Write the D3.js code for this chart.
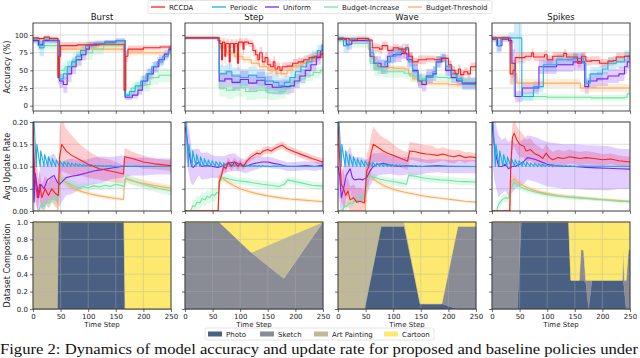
<!DOCTYPE html>
<html>
<head>
<meta charset="utf-8">
<script src="https://cdn.jsdelivr.net/npm/d3@7"></script>
<style>
  body { margin: 0; background: #fff; }
  svg { display: block; font-family: "DejaVu Sans", sans-serif; }
</style>
</head>
<body>
<svg id="chart" width="640" height="358"></svg>
<script>
const scenarios = ['Burst', 'Step', 'Wave', 'Spikes'];
const policies = ['RCCDA', 'Periodic', 'Uniform', 'Budget-Increase', 'Budget-Threshold'];
const policyColors = ['#ff1f1f', '#1ab0e6', '#7d1fff', '#6ee6a0', '#ffab5e'];
const domains = ['Photo', 'Sketch', 'Art Painting', 'Cartoon'];
const domainColors = ['#4a6083', '#8a8c95', '#bfb99a', '#fde96f'];
const xTicks = [0, 50, 100, 150, 200, 250];
const accTicks = [0, 25, 50, 75, 100];
const rateTicks = [0, 0.05, 0.10, 0.15, 0.20];
const compTicks = [0, 0.2, 0.4, 0.6, 0.8, 1.0];

// accuracy (%) : [time step, mean, spread], one list per policy in legend order
const accBurst = [
  [[0,96,2],[10,95,2],[20,97,2],[30,95,3],[45,40,8],[47,70,8],[50,85,5],[80,86,4],[120,87,3],[165,22,10],[168,70,8],[172,80,5],[200,82,3],[230,83,3],[250,84,3]],
  [[0,94,3],[8,95,3],[12,82,12],[20,94,4],[30,93,4],[47,38,8],[55,45,8],[62,55,8],[70,62,7],[78,70,7],[86,78,6],[95,85,5],[110,88,4],[130,90,3],[150,92,3],[166,15,4],[175,20,5],[185,28,6],[195,35,7],[205,45,7],[215,55,7],[225,62,7],[235,70,6],[245,78,5],[250,80,5]],
  [[0,92,4],[10,86,6],[18,92,4],[30,92,4],[48,35,10],[55,30,12],[62,45,12],[70,55,10],[78,65,8],[88,72,8],[96,80,6],[102,86,5],[115,88,4],[130,90,3],[150,92,3],[167,12,4],[180,15,5],[190,22,7],[198,35,8],[208,45,8],[218,55,8],[228,65,7],[238,73,6],[246,80,5],[250,80,5]],
  [[0,92,4],[8,85,6],[30,85,6],[47,50,10],[58,55,10],[72,65,10],[88,75,10],[108,80,8],[128,85,6],[166,15,6],[178,25,8],[195,30,10],[212,40,10],[228,43,10],[250,43,10]],
  [[0,94,3],[45,50,10],[48,80,4],[165,22,8],[168,75,4],[250,75,4]]
];
const accStep = [
  [[0,96,2],[60,92,5],[63,88,8],[66,65,10],[68,90,6],[72,70,10],[74,88,6],[80,62,10],[82,88,6],[88,75,8],[90,88,6],[95,60,10],[97,90,5],[105,80,8],[107,90,5],[115,88,5],[123,78,8],[128,72,8],[132,65,8],[135,75,8],[140,62,8],[145,68,8],[150,58,8],[155,55,8],[160,62,8],[163,52,8],[168,55,6],[172,50,6],[176,55,6],[185,56,6],[195,60,6],[205,62,6],[215,65,6],[225,68,6],[235,70,6],[245,73,6],[250,75,6]],
  [[0,96,2],[62,45,12],[75,48,12],[85,42,12],[100,40,12],[115,43,12],[130,40,12],[145,35,12],[160,33,12],[170,28,12],[180,33,10],[190,40,10],[200,48,10],[210,55,10],[220,62,10],[230,70,8],[240,78,8],[248,85,8],[250,85,8]],
  [[0,96,2],[62,35,12],[72,38,12],[85,33,12],[100,37,12],[115,32,12],[130,36,12],[145,30,12],[158,26,10],[175,27,10],[190,28,10],[198,35,10],[208,42,10],[218,50,10],[228,58,10],[238,68,10],[246,78,10],[250,80,10]],
  [[0,96,2],[62,25,12],[75,22,12],[90,25,12],[110,20,12],[130,22,12],[150,18,10],[170,20,10],[182,25,10],[192,32,8],[205,38,8],[218,43,8],[232,47,8],[245,50,6],[250,50,6]],
  [[0,96,2],[60,92,4],[65,82,5],[75,75,5],[90,70,5],[105,65,5],[120,60,5],[135,55,5],[150,50,5],[165,46,5],[175,45,5],[185,50,5],[195,55,5],[210,60,5],[222,65,5],[235,70,5],[245,73,5],[250,74,5]]
];
const accWave = [
  [[0,95,3],[20,93,3],[35,95,3],[55,93,3],[62,82,6],[75,80,6],[80,85,6],[90,78,6],[100,82,5],[110,80,5],[118,74,6],[122,82,5],[128,70,6],[135,62,6],[145,65,6],[160,66,5],[175,65,5],[188,67,5],[200,58,6],[206,50,6],[212,45,6],[218,52,6],[222,44,6],[228,48,6],[235,45,6],[240,55,6],[250,55,6]],
  [[0,96,3],[10,85,10],[20,95,3],[50,93,4],[58,75,8],[65,60,10],[72,55,10],[85,62,10],[95,70,10],[105,75,8],[115,80,8],[128,62,10],[135,48,10],[145,36,8],[160,40,8],[172,48,8],[178,62,8],[185,68,6],[195,55,8],[205,45,8],[215,38,8],[225,30,8],[250,30,8]],
  [[0,94,3],[15,87,8],[25,92,4],[50,92,4],[58,70,10],[65,60,10],[78,55,10],[90,70,10],[100,72,10],[115,74,8],[125,65,10],[135,50,10],[145,35,10],[152,30,10],[160,42,10],[172,45,10],[178,62,8],[188,67,6],[195,50,8],[205,40,8],[215,35,8],[225,32,8],[240,32,8],[250,34,8]],
  [[0,92,4],[20,88,6],[50,88,6],[58,60,10],[65,52,10],[80,48,8],[100,48,8],[120,46,8],[130,42,8],[145,38,8],[160,41,6],[180,40,6],[200,39,6],[215,36,6],[230,34,6],[250,34,6]],
  [[0,95,3],[50,93,3],[55,80,4],[60,68,4],[68,58,4],[75,54,4],[100,53,4],[120,52,4],[128,45,4],[135,38,4],[145,32,4],[160,31,4],[200,30,4],[250,30,4]]
];
const accSpikes = [
  [[0,96,2],[30,95,3],[33,45,15],[38,50,15],[42,68,8],[60,70,6],[72,75,6],[75,69,6],[95,72,6],[100,65,6],[110,70,6],[130,74,6],[135,69,6],[150,69,6],[155,60,6],[162,70,6],[170,63,6],[180,64,6],[195,60,6],[210,63,6],[220,64,6],[225,69,6],[240,70,6],[250,69,6]],
  [[0,96,3],[8,85,10],[16,96,3],[30,96,8],[40,96,20],[54,13,6],[75,27,8],[93,58,10],[117,65,8],[147,67,8],[165,60,10],[170,32,8],[178,45,10],[200,52,8],[210,60,8],[225,62,8],[240,70,8],[250,65,8]],
  [[0,94,4],[10,85,8],[18,94,4],[30,92,6],[36,60,20],[42,13,8],[55,25,8],[85,55,10],[117,58,10],[147,62,12],[168,27,10],[175,35,10],[190,38,10],[210,42,10],[230,45,10],[240,55,10],[245,62,10],[250,62,10]],
  [[0,95,3],[33,60,15],[40,13,5],[100,12,4],[150,12,4],[180,11,4],[240,12,4],[245,17,4],[250,17,4]],
  [[0,95,3],[33,45,15],[45,32,6],[150,32,6],[160,25,6],[250,25,6]]
];

// average update rate : [time step, mean, spread]
const ratePeriodic = [[0,0.2],[2,0.2],[6,0.1],[7,0.15],[13,0.1],[14,0.135],[20,0.1],[21,0.127],[27,0.1],[28,0.122],[34,0.1],[35,0.118],[41,0.1],[42,0.115],[48,0.1],[49,0.113],[55,0.1],[56,0.111],[62,0.1],[63,0.11],[69,0.1],[70,0.108],[76,0.1],[77,0.107],[83,0.1],[84,0.106],[90,0.1],[91,0.105],[97,0.1],[98,0.104],[104,0.1],[105,0.104],[111,0.1],[112,0.103],[118,0.1],[119,0.103],[125,0.1],[126,0.102],[132,0.1],[133,0.102],[139,0.1],[140,0.102],[146,0.1],[147,0.101],[153,0.1],[160,0.101],[250,0.1]];
const rateBurst = [
  [[0,0.2,0.05],[3,0.08,0.05],[8,0.03,0.03],[12,0.06,0.03],[16,0.03,0.03],[22,0.05,0.03],[28,0.035,0.03],[34,0.05,0.03],[40,0.04,0.03],[46,0.035,0.03],[48,0.12,0.06],[52,0.15,0.06],[60,0.135,0.05],[70,0.125,0.045],[85,0.115,0.035],[100,0.105,0.03],[120,0.095,0.025],[140,0.09,0.025],[164,0.083,0.02],[166,0.122,0.02],[180,0.118,0.015],[200,0.11,0.015],[220,0.106,0.012],[250,0.102,0.012]],
  ratePeriodic,
  [[0,0.2,0.05],[2,0.02,0.05],[4,0.085,0.05],[8,0.05,0.05],[10,0.03,0.04],[14,0.06,0.05],[20,0.05,0.05],[26,0.07,0.05],[32,0.075,0.05],[38,0.08,0.05],[44,0.065,0.05],[48,0.06,0.05],[52,0.065,0.045],[60,0.075,0.04],[70,0.078,0.04],[80,0.08,0.035],[95,0.085,0.03],[110,0.09,0.03],[125,0.093,0.03],[140,0.096,0.025],[160,0.1,0.025],[180,0.1,0.02],[200,0.1,0.02],[225,0.1,0.018],[250,0.1,0.018]],
  [[0,0,0],[10,0,0],[14,0.012,0.01],[20,0.01,0.01],[24,0.02,0.01],[30,0.018,0.01],[34,0.027,0.01],[40,0.025,0.01],[44,0.035,0.01],[47,0.033,0.01],[49,0.075,0.01],[60,0.065,0.01],[72,0.058,0.01],[84,0.052,0.01],[90,0.055,0.008],[100,0.052,0.008],[110,0.057,0.008],[120,0.054,0.008],[130,0.058,0.008],[140,0.055,0.008],[150,0.06,0.008],[160,0.057,0.008],[166,0.055,0.008],[168,0.075,0.01],[180,0.068,0.01],[195,0.062,0.01],[210,0.056,0.01],[230,0.05,0.01],[250,0.045,0.01]],
  [[0,0,0],[45,0,0],[46,0.08,0.01],[55,0.07,0.008],[65,0.058,0.007],[75,0.05,0.006],[90,0.043,0.005],[105,0.038,0.005],[120,0.034,0.004],[140,0.03,0.004],[164,0.026,0.004],[166,0.072,0.008],[180,0.068,0.008],[200,0.062,0.008],[220,0.057,0.008],[250,0.051,0.008]]
];
const rateStep = [
  [[0,0,0],[60,0,0],[62,0.065,0.01],[66,0.08,0.01],[70,0.1,0.01],[74,0.095,0.01],[78,0.11,0.01],[84,0.1,0.01],[90,0.11,0.01],[96,0.1,0.01],[100,0.108,0.008],[106,0.1,0.008],[112,0.112,0.008],[118,0.12,0.008],[124,0.125,0.008],[130,0.13,0.008],[136,0.128,0.008],[142,0.135,0.008],[150,0.138,0.008],[156,0.135,0.008],[162,0.14,0.008],[170,0.145,0.008],[176,0.148,0.008],[185,0.14,0.008],[200,0.132,0.008],[215,0.125,0.008],[230,0.118,0.008],[250,0.11,0.008]],
  ratePeriodic,
  [[0,0.19,0.06],[3,0.17,0.06],[6,0.14,0.05],[9,0.12,0.05],[12,0.1,0.04],[15,0.098,0.04],[20,0.105,0.035],[25,0.11,0.03],[30,0.1,0.03],[40,0.102,0.03],[50,0.1,0.025],[60,0.098,0.025],[70,0.103,0.02],[80,0.108,0.02],[90,0.11,0.02],[100,0.104,0.015],[110,0.1,0.015],[120,0.105,0.015],[130,0.108,0.015],[140,0.11,0.012],[150,0.11,0.012],[160,0.107,0.012],[170,0.105,0.01],[185,0.1,0.01],[200,0.1,0.01],[220,0.102,0.01],[235,0.1,0.01],[250,0.103,0.01]],
  [[0,0,0],[10,0,0],[14,0.012,0.015],[18,0.01,0.015],[22,0.02,0.015],[27,0.018,0.015],[31,0.028,0.015],[36,0.025,0.015],[40,0.033,0.015],[45,0.03,0.015],[49,0.038,0.015],[54,0.035,0.015],[58,0.042,0.015],[61,0.04,0.015],[63,0.068,0.012],[70,0.075,0.01],[80,0.072,0.01],[95,0.068,0.008],[110,0.066,0.008],[125,0.063,0.008],[140,0.06,0.008],[155,0.058,0.008],[170,0.055,0.008],[180,0.06,0.008],[186,0.07,0.008],[200,0.066,0.008],[215,0.062,0.008],[230,0.058,0.008],[250,0.056,0.008]],
  [[0,0,0],[60,0,0],[62,0.08,0.006],[70,0.072,0.006],[80,0.063,0.006],[90,0.056,0.005],[100,0.05,0.005],[115,0.044,0.005],[130,0.039,0.004],[150,0.034,0.004],[170,0.03,0.004],[190,0.027,0.004],[210,0.025,0.004],[230,0.023,0.004],[250,0.021,0.004]]
];
const rateWave = [
  [[0,0.2,0.05],[3,0.12,0.05],[6,0.06,0.04],[10,0.05,0.04],[14,0.035,0.03],[18,0.045,0.03],[22,0.025,0.03],[28,0.03,0.03],[34,0.02,0.03],[40,0.022,0.03],[48,0.018,0.03],[52,0.09,0.04],[56,0.1,0.04],[60,0.13,0.04],[64,0.15,0.04],[70,0.145,0.035],[76,0.14,0.03],[82,0.135,0.03],[90,0.13,0.03],[100,0.125,0.025],[110,0.12,0.02],[120,0.115,0.02],[126,0.112,0.02],[130,0.135,0.02],[140,0.133,0.02],[150,0.13,0.02],[160,0.128,0.02],[170,0.127,0.02],[180,0.125,0.015],[190,0.128,0.015],[200,0.124,0.015],[210,0.122,0.015],[220,0.125,0.012],[230,0.12,0.012],[240,0.122,0.01],[250,0.12,0.01]],
  ratePeriodic,
  [[0,0.1,0.06],[3,0.08,0.06],[6,0.03,0.05],[10,0.05,0.05],[15,0.08,0.05],[22,0.095,0.05],[26,0.075,0.05],[30,0.07,0.05],[38,0.072,0.05],[45,0.07,0.05],[52,0.075,0.04],[58,0.09,0.035],[64,0.1,0.03],[72,0.105,0.025],[82,0.107,0.025],[95,0.103,0.02],[110,0.1,0.02],[125,0.102,0.02],[140,0.1,0.02],[160,0.1,0.015],[180,0.102,0.015],[200,0.1,0.015],[220,0.1,0.015],[250,0.1,0.015]],
  [[0,0,0],[8,0,0],[12,0.012,0.01],[16,0.01,0.01],[20,0.018,0.01],[26,0.017,0.01],[30,0.025,0.01],[36,0.023,0.01],[40,0.032,0.01],[46,0.03,0.01],[50,0.04,0.01],[53,0.08,0.01],[62,0.077,0.008],[75,0.072,0.008],[90,0.068,0.008],[105,0.065,0.008],[118,0.062,0.008],[124,0.06,0.008],[128,0.08,0.008],[140,0.078,0.008],[155,0.074,0.008],[170,0.072,0.008],[185,0.07,0.008],[200,0.069,0.008],[215,0.067,0.008],[230,0.066,0.008],[250,0.065,0.008]],
  [[0,0,0],[50,0,0],[52,0.09,0.008],[60,0.078,0.007],[70,0.066,0.006],[85,0.056,0.005],[100,0.049,0.005],[115,0.044,0.004],[130,0.04,0.004],[150,0.035,0.004],[170,0.031,0.004],[190,0.028,0.003],[210,0.025,0.003],[230,0.022,0.003],[250,0.02,0.003]]
];
const rateSpikes = [
  [[0,0,0],[32,0,0],[34,0.1,0.03],[37,0.165,0.03],[40,0.175,0.03],[45,0.16,0.03],[50,0.15,0.03],[58,0.145,0.025],[62,0.135,0.025],[70,0.138,0.025],[78,0.128,0.022],[85,0.125,0.02],[92,0.118,0.02],[98,0.13,0.02],[104,0.12,0.02],[110,0.115,0.018],[120,0.12,0.018],[130,0.118,0.016],[140,0.122,0.016],[150,0.12,0.015],[160,0.118,0.015],[170,0.12,0.015],[185,0.118,0.014],[200,0.115,0.013],[215,0.117,0.012],[230,0.113,0.012],[250,0.11,0.012]],
  ratePeriodic,
  [[0,0.2,0.08],[4,0.15,0.08],[8,0.12,0.07],[12,0.1,0.07],[18,0.1,0.06],[24,0.105,0.06],[30,0.095,0.06],[36,0.1,0.06],[42,0.1,0.05],[50,0.105,0.05],[58,0.112,0.05],[64,0.12,0.05],[72,0.118,0.05],[80,0.115,0.05],[90,0.11,0.05],[100,0.105,0.05],[115,0.102,0.05],[130,0.1,0.05],[150,0.1,0.05],[170,0.098,0.05],[190,0.097,0.05],[210,0.096,0.05],[230,0.095,0.045],[250,0.094,0.045]],
  [[0,0,0],[8,0,0],[12,0.015,0.01],[18,0.025,0.01],[24,0.03,0.01],[30,0.028,0.01],[34,0.05,0.01],[40,0.065,0.01],[46,0.058,0.008],[55,0.052,0.008],[65,0.047,0.007],[80,0.042,0.006],[95,0.038,0.006],[110,0.035,0.005],[130,0.032,0.005],[150,0.03,0.005],[170,0.028,0.004],[190,0.026,0.004],[210,0.024,0.004],[230,0.022,0.004],[250,0.021,0.004]],
  [[0,0,0],[33,0,0],[34,0.065,0.01],[40,0.072,0.01],[48,0.063,0.008],[58,0.056,0.007],[70,0.049,0.006],[85,0.043,0.005],[100,0.039,0.005],[120,0.035,0.004],[140,0.032,0.004],[160,0.03,0.004],[180,0.028,0.004],[200,0.026,0.003],[225,0.024,0.003],[250,0.022,0.003]]
];

// dataset composition : [time step, photo, sketch, art painting, cartoon]
const compBurst = [[0,0,0,1,0],[44,0,0,1,0],[46,1,0,0,0],[165,1,0,0,0],[167,0,0,0,1],[250,0,0,0,1]];
const compStep = [[0,0,1,0,0],[62,0,1,0,0],[120,0,0.65,0,0.35],[179,0,0.35,0.46,0.19],[250,0,1,0,0]];
const compWave = [[0,0,0,1,0],[48,0,0,1,0],[78,0.95,0,0.05,0],[120,0.95,0,0.05,0],[149,0.06,0,0,0.94],[188,0.06,0,0,0.94],[217,0,0.95,0,0.05],[250,0,0.95,0,0.05]];
const compSpikes = [[0,0,1,0,0],[46,0,1,0,0],[53,1,0,0,0],[139,1,0,0,0],[143,0.33,0,0,0.67],[158,0.33,0,0,0.67],[161,0.33,0.35,0,0.32],[166,0.33,0.35,0,0.32],[170,0.3,0.03,0,0.67],[175,0,0.33,0,0.67],[181,0.33,0,0,0.67],[236,0.33,0,0,0.67],[238,0.33,0.35,0,0.32],[240,0.2,0.13,0,0.67],[243,0,0.33,0,0.67],[247,0,0.68,0,0.32],[250,0,0.68,0,0.32]];

const accData = [accBurst, accStep, accWave, accSpikes];
const rateData = [rateBurst, rateStep, rateWave, rateSpikes];
const compData = [compBurst, compStep, compWave, compSpikes];

const svg = d3.select('#chart');
const colX = [33, 185, 338, 492];
const panelW = 138;
const rowTop = [23, 122, 222];
const rowH = [88, 89, 87];

const x = d3.scaleLinear().domain([0, 250]).range([0, panelW]);
const yScales = [
  d3.scaleLinear().domain([-7.5, 117]).range([rowH[0], 0]),
  d3.scaleLinear().domain([0, 0.2]).range([rowH[1], 0]),
  d3.scaleLinear().domain([0, 1]).range([rowH[2], 0])
];
const yTickSets = [accTicks, rateTicks, compTicks];
const yFormats = [d3.format('d'), d3.format('.2f'), d3.format('.1f')];
const yLabels = ['Accuracy (%)', 'Avg Update Rate', 'Dataset Composition'];

function drawGrid(g, y, ticks, h, color, opacity) {
  const grid = g.append('g').attr('stroke', color).attr('stroke-width', 0.8).attr('opacity', opacity);
  grid.selectAll('.gx').data(xTicks).join('line')
    .attr('x1', d => x(d)).attr('x2', d => x(d)).attr('y1', 0).attr('y2', h);
  grid.selectAll('.gy').data(ticks).join('line')
    .attr('x1', 0).attr('x2', panelW).attr('y1', d => y(d)).attr('y2', d => y(d));
}

function drawAxes(g, ci, ri) {
  const y = yScales[ri];
  const xAxis = g.append('g')
    .attr('transform', `translate(0,${rowH[ri]})`)
    .call(d3.axisBottom(x).tickValues(xTicks).tickSize(3).tickPadding(2)
      .tickFormat(ri === 2 ? d3.format('d') : () => ''));
  const yAxis = g.append('g')
    .call(d3.axisLeft(y).tickValues(yTickSets[ri]).tickSize(3).tickPadding(2)
      .tickFormat(ci === 0 ? yFormats[ri] : () => ''));
  [xAxis, yAxis].forEach(a => {
    a.select('.domain').remove();
    a.selectAll('line').attr('stroke', '#333').attr('stroke-width', 0.7);
    a.selectAll('text').attr('font-size', 7).attr('fill', '#222')
      .attr('font-family', '"DejaVu Sans", sans-serif');
  });
  g.append('rect').attr('width', panelW).attr('height', rowH[ri])
    .attr('fill', 'none').attr('stroke', '#222').attr('stroke-width', 0.8);
}

scenarios.forEach((name, ci) => {
  // title
  svg.append('text')
    .attr('x', colX[ci] + panelW / 2).attr('y', 20)
    .attr('text-anchor', 'middle').attr('font-size', 8.5).attr('fill', '#111')
    .text(name);

  // accuracy and update rate rows
  [accData[ci], rateData[ci]].forEach((series, ri) => {
    const y = yScales[ri];
    const g = svg.append('g').attr('transform', `translate(${colX[ci]},${rowTop[ri]})`);
    const clipId = `clip-${ci}-${ri}`;
    g.append('clipPath').attr('id', clipId)
      .append('rect').attr('width', panelW).attr('height', rowH[ri]);
    drawGrid(g, y, yTickSets[ri], rowH[ri], '#c8c8c8', 0.7);

    const curve = ri === 0 ? d3.curveStepAfter : d3.curveLinear;
    const area = d3.area().curve(curve)
      .x(d => x(d[0]))
      .y0(d => y(d[1] - (d[2] || 0.0015)))
      .y1(d => y(d[1] + (d[2] || 0.0015)));
    const line = d3.line().curve(curve)
      .x(d => x(d[0])).y(d => y(d[1]));

    const plot = g.append('g').attr('clip-path', `url(#${clipId})`);
    series.forEach((s, i) => {
      plot.append('path').attr('d', area(s))
        .attr('fill', policyColors[i]).attr('opacity', 0.22);
    });
    for (let i = series.length - 1; i >= 0; i--) {
      plot.append('path').attr('d', line(series[i]))
        .attr('fill', 'none').attr('stroke', policyColors[i])
        .attr('stroke-width', 1.1).attr('stroke-linejoin', 'round');
    }
    drawAxes(g, ci, ri);
  });

  // dataset composition row
  const ri = 2;
  const y = yScales[ri];
  const g = svg.append('g').attr('transform', `translate(${colX[ci]},${rowTop[ri]})`);
  const rows = compData[ci].map(r => ({ t: r[0], Photo: r[1], Sketch: r[2], 'Art Painting': r[3], Cartoon: r[4] }));
  const stacked = d3.stack().keys(domains)(rows);
  const area = d3.area()
    .x(d => x(d.data.t)).y0(d => y(d[0])).y1(d => y(d[1]));
  stacked.forEach((layer, i) => {
    g.append('path').attr('d', area(layer))
      .attr('fill', domainColors[i]).attr('stroke', domainColors[i]).attr('stroke-width', 0.4);
  });
  drawGrid(g, y, compTicks, rowH[ri], '#b0b0b0', 0.45);
  drawAxes(g, ci, ri);

  svg.append('text')
    .attr('x', colX[ci] + panelW / 2).attr('y', 327)
    .attr('text-anchor', 'middle').attr('font-size', 7).attr('fill', '#222')
    .text('Time Step');
});

// y axis labels
yLabels.forEach((lab, ri) => {
  svg.append('text')
    .attr('transform', `translate(10,${rowTop[ri] + rowH[ri] / 2}) rotate(-90)`)
    .attr('text-anchor', 'middle').attr('font-size', 8).attr('fill', '#222')
    .text(lab);
});

// top legend
const topLegend = svg.append('g');
topLegend.append('rect').attr('x', 148).attr('y', 0.5).attr('width', 344).attr('height', 13)
  .attr('rx', 2).attr('fill', '#fff').attr('stroke', '#ddd').attr('stroke-width', 0.8);
const topLegendX = [151, 212, 265, 324, 408];
policies.forEach((p, i) => {
  topLegend.append('line')
    .attr('x1', topLegendX[i]).attr('x2', topLegendX[i] + 14)
    .attr('y1', 7).attr('y2', 7)
    .attr('stroke', policyColors[i]).attr('stroke-width', 1.3);
  topLegend.append('text')
    .attr('x', topLegendX[i] + 18).attr('y', 9.5)
    .attr('font-size', 7).attr('fill', '#222').text(p);
});

// bottom legend
const botLegend = svg.append('g');
botLegend.append('rect').attr('x', 205).attr('y', 328).attr('width', 229).attr('height', 12)
  .attr('rx', 2).attr('fill', '#fff').attr('stroke', '#ddd').attr('stroke-width', 0.8);
const botLegendX = [208, 260, 314, 384];
domains.forEach((d, i) => {
  botLegend.append('rect')
    .attr('x', botLegendX[i]).attr('y', 331.5).attr('width', 14).attr('height', 5)
    .attr('fill', domainColors[i]);
  botLegend.append('text')
    .attr('x', botLegendX[i] + 18).attr('y', 336.5)
    .attr('font-size', 7).attr('fill', '#222').text(d);
});

// caption
svg.append('text')
  .attr('x', 0).attr('y', 353.5)
  .attr('font-family', '"Liberation Serif", "Times New Roman", serif')
  .attr('font-size', 15).attr('fill', '#111')
  .attr('textLength', 638).attr('lengthAdjust', 'spacingAndGlyphs')
  .text('Figure 2: Dynamics of model accuracy and update rate for proposed and baseline policies under');
</script>
</body>
</html>
